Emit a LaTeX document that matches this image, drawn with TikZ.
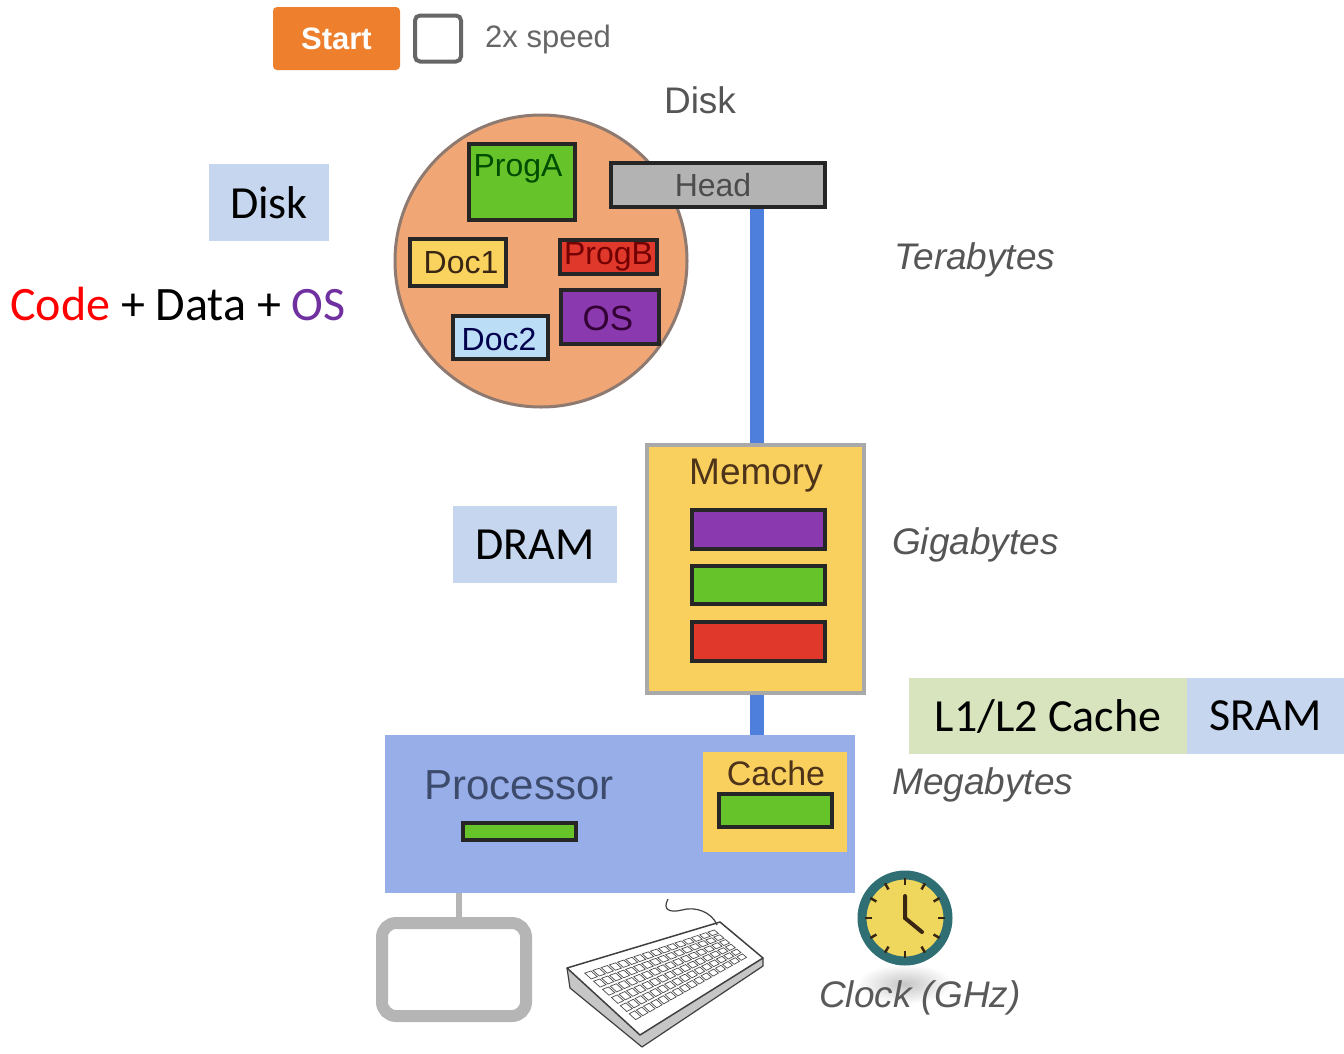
\documentclass[tikz,border=0pt]{standalone}
\usepackage{fontspec}
\setmainfont{Liberation Sans}
\newfontfamily\calibrifont{Carlito}
\usetikzlibrary{calc}

\definecolor{startorange}{HTML}{EE7F2D}
\definecolor{diskfill}{HTML}{F0A675}
\definecolor{diskedge}{HTML}{8E7A70}
\definecolor{proggreen}{HTML}{66C42A}
\definecolor{docyellow}{HTML}{FAD35F}
\definecolor{progred}{HTML}{E0392B}
\definecolor{ospurple}{HTML}{8A3AAE}
\definecolor{doclblue}{HTML}{BCDDF6}
\definecolor{headgray}{HTML}{B3B3B3}
\definecolor{busblue}{HTML}{4F7FDC}
\definecolor{memyellow}{HTML}{F9CF5E}
\definecolor{memedge}{HTML}{A9A9A9}
\definecolor{cpublue}{HTML}{98AEE8}
\definecolor{cputext}{HTML}{3C4A6B}
\definecolor{tagblue}{HTML}{C6D6EE}
\definecolor{taggreen}{HTML}{D7E4BD}
\definecolor{codered}{HTML}{FF0000}
\definecolor{ostext}{HTML}{7030A0}
\definecolor{clockteal}{HTML}{2F6E73}
\definecolor{clockface}{HTML}{EFD65C}
\definecolor{labelgray}{HTML}{555555}
\definecolor{monitorgray}{HTML}{B5B5B5}

\newcommand\fs[1]{\fontsize{#1}{#1}\selectfont}

\tikzset{
  block/.style={draw=black!85, line width=4pt, inner sep=0pt, rectangle},
  blocktext/.style={inner sep=0pt, font=\fs{32}},
  sizelabel/.style={inner sep=0pt, anchor=west, text=labelgray, font=\fs{37}\itshape},
  tag/.style={inner sep=0pt, font=\calibrifont\fs{46}},
  bus/.style={draw=busblue, line width=14pt},
  key/.style={draw=black!70, line width=0.7pt, fill=white},
}

\begin{document}
\begin{tikzpicture}[x=1pt, y=-1pt]
\useasboundingbox (0,0) rectangle (1344,1053);

% controls at the top
\node[fill=startorange, rounded corners=4pt, minimum width=127pt, minimum height=63pt,
      inner sep=0pt, text=white, font=\fs{31}\bfseries] (start) at (336.5,38.5) {Start};
\node[draw=black!60, line width=4pt, rounded corners=5pt, minimum size=46pt, inner sep=0pt]
      (check) at (438,38.5) {};
\node[inner sep=0pt, anchor=west, text=black!60, font=\fs{31}] (speed) at (485,39) {2x speed};

% disk
\node[inner sep=0pt, text=labelgray, font=\fs{37}] (disktitle) at (700,100) {Disk};
\node[circle, draw=diskedge, line width=3pt, fill=diskfill, minimum size=292pt, inner sep=0pt]
      (disk) at (541,261) {};
\node[block, fill=proggreen, minimum width=106pt, minimum height=76pt] (proga) at (522,182) {};
\node[blocktext, text=green!30!black] (progatext) at (518,169) {ProgA};
\node[block, fill=docyellow, minimum width=96pt, minimum height=47pt] (doc1) at (458,262.5) {};
\node[blocktext, text=black!70!brown] (doc1text) at (461,262.5) {Doc1};
\node[block, fill=progred, minimum width=97pt, minimum height=34pt] (progb) at (608.5,257) {};
\node[blocktext, text=red!45!black] (progbtext) at (608.5,257) {ProgB};
\node[block, fill=ospurple, minimum width=98pt, minimum height=54pt] (os) at (610,317) {};
\node[blocktext, text=violet!40!black, font=\fs{35}] (ostext) at (608,318) {OS};
\node[block, fill=doclblue, minimum width=95pt, minimum height=43pt] (doc2) at (500.5,337.5) {};
\node[blocktext, text=blue!30!black] (doc2text) at (499,339) {Doc2};
\node[block, fill=headgray, minimum width=214pt, minimum height=44pt] (head) at (718,185) {};
\node[blocktext, text=black!70] (headtext) at (713,185) {Head};
\node[sizelabel] (tb) at (894,260) {Terabytes};

% main memory
\node[draw=memedge, line width=4pt, fill=memyellow, minimum width=217pt, minimum height=248pt,
      inner sep=0pt] (mem) at (755.5,569) {};
\node[inner sep=0pt, text=black!60!brown, font=\fs{37}] (memtext) at (756,476) {Memory};
\node[block, fill=ospurple, minimum width=133pt, minimum height=39pt] (memos) at (758.5,529.5) {};
\node[block, fill=proggreen, minimum width=133pt, minimum height=38pt] (memprog) at (758.5,585) {};
\node[block, fill=progred, minimum width=133pt, minimum height=39pt] (memdata) at (758.5,641.5) {};
\node[sizelabel] (gb) at (892,545) {Gigabytes};

% processor
\node[fill=cpublue, minimum width=470pt, minimum height=158pt, inner sep=0pt] (proc) at (620,814) {};
\node[inner sep=0pt, text=cputext, font=\fs{42}] (proctext) at (519,785) {Processor};
\node[block, fill=proggreen, minimum width=113pt, minimum height=17pt] (reg) at (519.5,831.5) {};
\node[fill=memyellow, minimum width=144pt, minimum height=100pt, inner sep=0pt] (cache) at (775,802) {};
\node[inner sep=0pt, text=black!60!brown, font=\fs{34}] (cachetext) at (776,773) {Cache};
\node[block, fill=proggreen, minimum width=113pt, minimum height=33pt] (cacheline) at (775.5,810.5) {};
\node[sizelabel] (mb) at (892,785) {Megabytes};

% buses
\draw[bus] (757,0 |- head.south) -- (757,0 |- mem.north);
\draw[bus] (757,0 |- mem.south) -- (757,0 |- proc.north);

% monitor
\node[draw=monitorgray, line width=12pt, rounded corners=14pt, fill=white,
      minimum width=144pt, minimum height=93pt, inner sep=0pt] (monitor) at (454,969.5) {};
\draw[monitorgray, line width=6pt] (459,0 |- proc.south) -- (459,0 |- monitor.north);

% keyboard sketch
\coordinate (kA) at (567,968);
\coordinate (kB) at (720,922);
\coordinate (kC) at (763,958);
\coordinate (kD) at (640,1035);
\fill[gray!45] (kA) -- (kD) -- (kC) -- ($(kC)+(0,8)$) -- ($(kD)+(2,12)$) -- ($(kA)+(3,20)$) -- cycle;
\draw[black!75, line width=1.2pt, line join=round] (kA) -- ($(kA)+(3,20)$) -- ($(kD)+(2,12)$) -- ($(kC)+(0,8)$) -- (kC);
\draw[black!75, line width=1.5pt, fill=white, line join=round] (kA) -- (kB) -- (kC) -- (kD) -- cycle;
\draw[black!75, line width=1.2pt] (717,925) .. controls (712,912) and (695,906) .. (682,910)
      .. controls (670,913) and (662,910) .. (668,899);
\foreach \i in {0,...,15} {
  \pgfmathsetmacro{\ua}{0.06+\i*0.055}
  \pgfmathsetmacro{\ub}{\ua+0.042}
  \coordinate (t1) at ($(kA)!\ua!(kB)$);
  \coordinate (b1) at ($(kD)!\ua!(kC)$);
  \coordinate (t2) at ($(kA)!\ub!(kB)$);
  \coordinate (b2) at ($(kD)!\ub!(kC)$);
  \foreach \j in {0,...,5} {
    \pgfmathsetmacro{\va}{0.12+\j*0.125}
    \pgfmathsetmacro{\vb}{\va+0.09}
    \draw[key] ($(t1)!\va!(b1)$) -- ($(t2)!\va!(b2)$) -- ($(t2)!\vb!(b2)$) -- ($(t1)!\vb!(b1)$) -- cycle;
  }
}

% clock
\shade[inner color=gray!45, outer color=white] (905,984) ellipse (48pt and 20pt);
\node[circle, draw=clockteal, line width=9pt, fill=clockface, minimum size=86pt, inner sep=0pt]
      (clock) at (905,918) {};
\foreach \a in {0,30,...,330}
  \draw[black!70!brown, line width=2.5pt] ($(clock.center)+(\a:33pt)$) -- ($(clock.center)+(\a:40pt)$);
\draw[black!70!brown, line width=4pt, line cap=round] (905,896) -- (clock.center) -- (922,932);
\node[sizelabel, text=black!65] (clocktext) at (819,998) {Clock (GHz)};

% overlay annotations
\node[tag, fill=tagblue, minimum width=120pt, minimum height=77pt] (disktag) at (269,202.5) {Disk};
\node[tag, anchor=base west, font=\calibrifont\fs{48}] (codeline) at (10,320)
      {\textcolor{codered}{Code} + Data + \textcolor{ostext}{OS}};
\node[tag, fill=tagblue, minimum width=164pt, minimum height=77pt] (dramtag) at (535,544.5) {DRAM};
\node[tag, fill=taggreen, minimum width=278pt, minimum height=76pt] (cachetag) at (1048,716) {L1/L2 Cache};
\node[tag, fill=tagblue, minimum width=157pt, minimum height=76pt] (sramtag) at (1265.5,716) {SRAM};
\end{tikzpicture}
\end{document}
